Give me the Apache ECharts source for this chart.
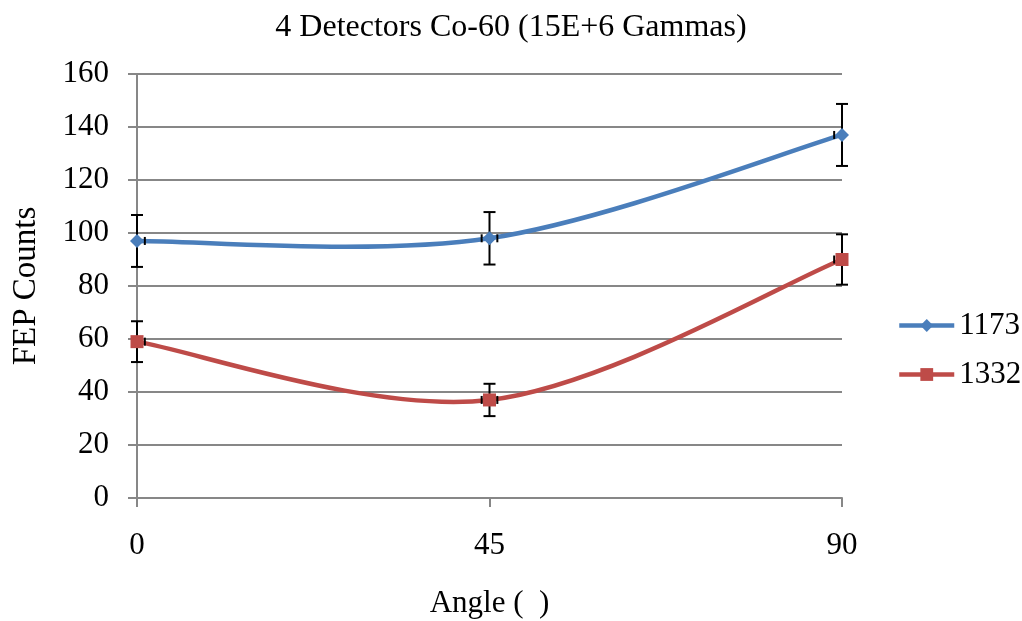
<!DOCTYPE html>
<html>
<head>
<meta charset="utf-8">
<script src="https://cdn.jsdelivr.net/npm/echarts@6/dist/echarts.min.js"></script>
<style>
  html, body { margin: 0; padding: 0; background: #ffffff; }
  #chart { width: 1022px; height: 621px; }
</style>
</head>
<body>
<div id="chart"></div>
<script>
// Measured full-energy-peak counts per detector angle, with Poisson-style uncertainties
const angles = [0, 45, 90];
const counts1173 = [97, 98, 137];
const counts1332 = [59, 37, 90];
const err1173 = [9.8, 9.9, 11.7];
const err1332 = [7.7, 6.1, 9.5];
const angleErr = [1, 1, 1];

// Axis ranges and tick spacing
const angleMin = 0, angleMax = 90, angleStep = 45;
const countMin = 0, countMax = 160, countStep = 20;

const FONT = '"Liberation Serif", "Times New Roman", serif';
const AXIS_GREY = '#878787';
const BLUE = '#4a7ebb';
const RED = '#be4b48';
const LINE_W = 4.5;

const chart = echarts.init(document.getElementById('chart'));

// Smooth curve through the points: cubic Bezier segments with
// control points taken from the neighbouring points (Catmull-Rom style).
function curveSeries(name, ys, color) {
  const n = angles.length;
  const idx = k => Math.max(0, Math.min(n - 1, k));
  return {
    type: 'custom',
    name: name,
    z: 2,
    silent: true,
    data: angles.map((a, i) => [a, ys[i]]),
    encode: { x: 0, y: 1 },
    renderItem(params, api) {
      const i = params.dataIndex;
      if (i >= n - 1) return { type: 'group', children: [] };
      const P = k => api.coord([angles[idx(k)], ys[idx(k)]]);
      const p0 = P(i - 1), p1 = P(i), p2 = P(i + 1), p3 = P(i + 2);
      return {
        type: 'bezierCurve',
        shape: {
          x1: p1[0], y1: p1[1],
          x2: p2[0], y2: p2[1],
          cpx1: p1[0] + (p2[0] - p0[0]) / 6,
          cpy1: p1[1] + (p2[1] - p0[1]) / 6,
          cpx2: p2[0] - (p3[0] - p1[0]) / 6,
          cpy2: p2[1] - (p3[1] - p1[1]) / 6
        },
        style: { stroke: color, lineWidth: LINE_W, fill: null, lineCap: 'round' }
      };
    }
  };
}

// Error bars: vertical count uncertainty with caps, plus small angle caps
function errorSeries(name, ys, errs) {
  return {
    type: 'custom',
    name: name,
    z: 3,
    silent: true,
    data: angles.map((a, i) => [a, ys[i], errs[i], angleErr[i]]),
    encode: { x: 0, y: 1 },
    renderItem(params, api) {
      const a = api.value(0), v = api.value(1), e = api.value(2), ae = api.value(3);
      const top = api.coord([a, v + e]);
      const bot = api.coord([a, v - e]);
      const style = { stroke: '#000', lineWidth: 2 };
      const capW = 6, capH = 4;
      const children = [
        { type: 'line', shape: { x1: top[0], y1: top[1], x2: bot[0], y2: bot[1] }, style },
        { type: 'line', shape: { x1: top[0] - capW, y1: top[1], x2: top[0] + capW, y2: top[1] }, style },
        { type: 'line', shape: { x1: bot[0] - capW, y1: bot[1], x2: bot[0] + capW, y2: bot[1] }, style }
      ];
      [a - ae, a + ae].forEach(xa => {
        if (xa < angleMin || xa > angleMax) return;
        const c = api.coord([xa, v]);
        children.push({ type: 'line', shape: { x1: c[0], y1: c[1] - capH, x2: c[0], y2: c[1] + capH }, style });
      });
      return { type: 'group', children };
    }
  };
}

// Marker series (also supply the legend icons)
function markerSeries(name, ys, color, symbol, size) {
  return {
    type: 'line',
    name: name,
    z: 4,
    data: angles.map((a, i) => [a, ys[i]]),
    symbol: symbol,
    symbolSize: size,
    showSymbol: true,
    lineStyle: { opacity: 0, width: LINE_W, color: color },
    itemStyle: { color: color, borderWidth: 0 },
    emphasis: { disabled: true }
  };
}

chart.setOption({
  animation: false,
  backgroundColor: '#ffffff',
  title: {
    text: '4 Detectors Co-60 (15E+6 Gammas)',
    left: 506,
    textAlign: 'center',
    top: 7,
    textStyle: { fontFamily: FONT, fontSize: 32, fontWeight: 'normal', color: '#000' }
  },
  grid: {
    left: 137, right: 180, top: 74, bottom: 123,
    containLabel: false,
    outerBoundsMode: 'none'
  },
  legend: {
    orient: 'vertical',
    left: 897,
    top: 310,
    padding: 0,
    itemWidth: 55,
    itemHeight: 16,
    itemGap: 18,
    itemGap: 18,
    data: ['1173', '1332'],
    textStyle: { fontFamily: FONT, fontSize: 31, color: '#000' },
    lineStyle: { width: LINE_W, opacity: 1 }
  },
  xAxis: {
    type: 'value',
    min: angleMin,
    max: angleMax,
    interval: angleStep,
    name: 'Angle (  )',
    nameLocation: 'middle',
    nameGap: 90,
    nameTextStyle: { fontFamily: FONT, fontSize: 31, color: '#000' },
    axisLine: { show: true, lineStyle: { color: AXIS_GREY, width: 2 } },
    axisTick: { show: true, length: 9, lineStyle: { color: AXIS_GREY, width: 2 } },
    axisLabel: { fontFamily: FONT, fontSize: 31, color: '#000', margin: 32 },
    splitLine: { show: false }
  },
  yAxis: {
    type: 'value',
    min: countMin,
    max: countMax,
    interval: countStep,
    name: 'FEP Counts',
    nameLocation: 'middle',
    nameGap: 94,
    nameTextStyle: { fontFamily: FONT, fontSize: 33, color: '#000' },
    axisLine: { show: true, lineStyle: { color: AXIS_GREY, width: 2 } },
    axisTick: { show: true, length: 9, lineStyle: { color: AXIS_GREY, width: 2 } },
    axisLabel: { fontFamily: FONT, fontSize: 31, color: '#000', margin: 28 },
    splitLine: { show: true, lineStyle: { color: AXIS_GREY, width: 2 } }
  },
  series: [
    markerSeries('1173', counts1173, BLUE, 'diamond', 14),
    markerSeries('1332', counts1332, RED, 'rect', 13),
    curveSeries('1173', counts1173, BLUE),
    curveSeries('1332', counts1332, RED),
    errorSeries('1173', counts1173, err1173),
    errorSeries('1332', counts1332, err1332)
  ]
});
</script>
</body>
</html>
